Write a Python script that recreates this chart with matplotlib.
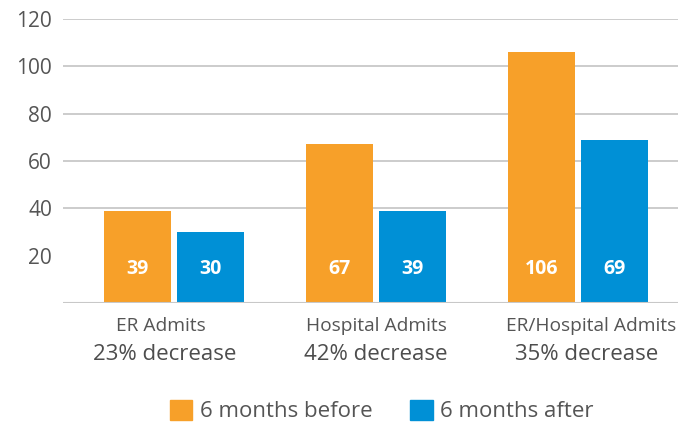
import numpy as np
import matplotlib
matplotlib.use("Agg")
import matplotlib.pyplot as plt
from matplotlib.patches import Patch

categories = ["ER Admits", "Hospital Admits", "ER/Hospital Admits"]
decreases = ["23% decrease", "42% decrease", "35% decrease"]
before = [39, 67, 106]
after = [30, 39, 69]
series_names = ["6 months before", "6 months after"]
y_ticks = [20, 40, 60, 80, 100, 120]
grid_levels = [40, 60, 80, 100, 120]

ORANGE = "#F7A029"
BLUE = "#0090D6"
TXT = "#555555"

plt.rcParams["font.family"] = ["Open Sans", "DejaVu Sans"]

fig = plt.figure(figsize=(6.98, 4.23), dpi=100)
ax = fig.add_axes([63 / 698, 1 - 303 / 423, 615 / 698, 284 / 423])

x = np.arange(len(categories))
w = 0.33
off = 0.18
ax.bar(x - off, before, w, color=ORANGE, zorder=3)
ax.bar(x + off, after, w, color=BLUE, zorder=3)

for xi, b, a in zip(x, before, after):
    ax.text(xi - off, 14.5, str(b), ha="center", va="center",
            color="white", fontsize=14, fontweight="bold", zorder=4)
    ax.text(xi + off, 14.5, str(a), ha="center", va="center",
            color="white", fontsize=14, fontweight="bold", zorder=4)

for g in grid_levels:
    ax.axhline(g, color="#C8C8C8", lw=1.3, zorder=1)
ax.axhline(0, color="#C8C8C8", lw=1.5, zorder=5)

ax.set_xlim(-0.55, 2.495)
ax.set_ylim(0, 120)
ax.set_yticks(y_ticks)
ax.set_yticklabels([str(t) for t in y_ticks], fontsize=15, color=TXT)
ax.tick_params(axis="y", length=0, pad=8)
ax.set_xticks([])
for s in ax.spines.values():
    s.set_visible(False)

# labels under the groups sit a bit wider apart than the bars
tr = ax.get_xaxis_transform()
for xi, c, d in zip(x, categories, decreases):
    lx = xi + (xi - 1) * 0.065
    ax.text(lx, -0.082, c, transform=tr, ha="center", va="center",
            fontsize=13.8, color=TXT)
    ax.text(lx - (xi - 1) * 0.02, -0.18, d, transform=tr, ha="center",
            va="center", fontsize=16, color="#4d4d4d")

handles = [Patch(color=ORANGE), Patch(color=BLUE)]
fig.legend(handles, series_names, loc="center", ncol=2,
           bbox_to_anchor=(382 / 698, 1 - 411 / 423), frameon=False,
           fontsize=16, labelcolor=TXT, handlelength=1.0, handleheight=1.0,
           handletextpad=0.35, columnspacing=1.7)

fig.savefig("out.png", dpi=100)
